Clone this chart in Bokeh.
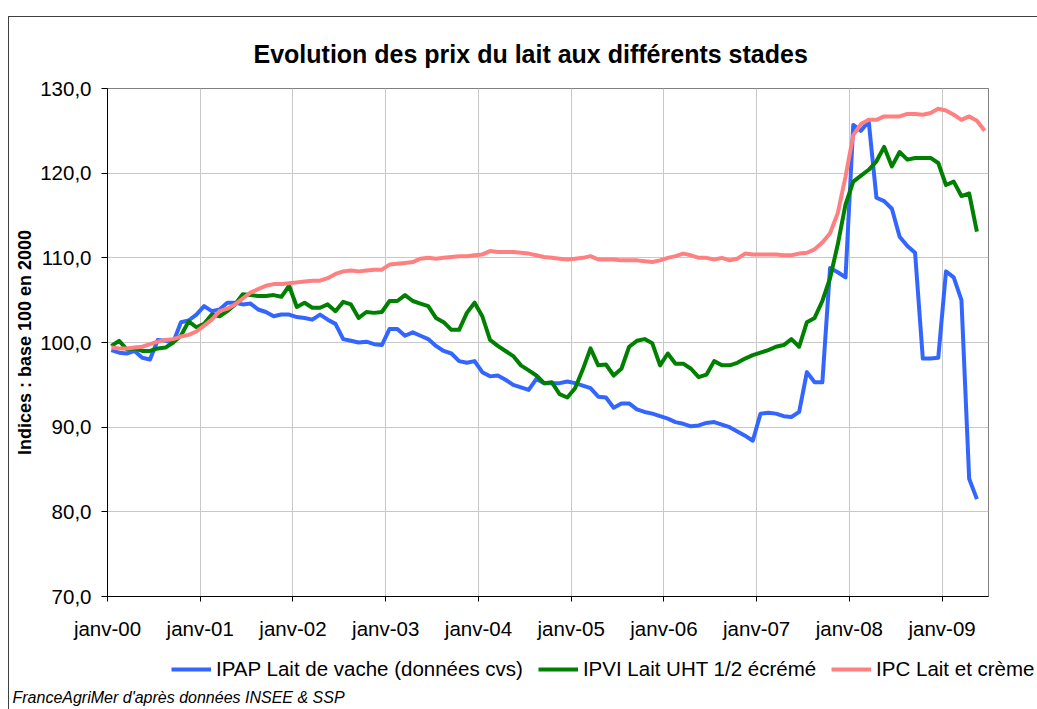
from bokeh.plotting import figure
from bokeh.layouts import column
from bokeh.models import FixedTicker, Range1d, Legend, LegendItem, Label
from bokeh.embed import file_html
from bokeh.resources import INLINE

TITLE = "Evolution des prix du lait aux différents stades"
Y_LABEL = "Indices : base 100 en 2000"
FOOTER = "FranceAgriMer d'après données INSEE & SSP"

series_names = ["IPAP Lait de vache (données cvs)", "IPVI Lait UHT 1/2 écrémé", "IPC Lait et crème"]
series_colors = ["#3366FF", "#008000", "#FF8080"]

# monthly values, janv-00 .. (index 0 = janvier 2000)
ipap = [
    99.1, 98.8, 98.7, 99.0, 98.2, 98.0, 100.3, 100.2, 100.0, 102.4, 102.6, 103.3,
    104.3, 103.7, 103.9, 104.7, 104.7, 104.5, 104.6, 103.9, 103.6, 103.1, 103.3, 103.3,
    103.0, 102.9, 102.7, 103.3, 102.7, 102.2, 100.4, 100.2, 100.0, 100.1, 99.8, 99.7,
    101.6, 101.6, 100.8, 101.2, 100.8, 100.4, 99.6, 99.0, 98.7, 97.8, 97.6, 97.8,
    96.5, 96.0, 96.1, 95.6, 95.0, 94.7, 94.4, 95.7, 95.2, 95.2, 95.2, 95.4,
    95.2, 94.9, 94.6, 93.6, 93.5, 92.3, 92.8, 92.8, 92.1, 91.8, 91.6, 91.3,
    91.0, 90.6, 90.4, 90.1, 90.2, 90.5, 90.6, 90.3, 90.0, 89.5, 89.0, 88.4,
    91.6, 91.7, 91.6, 91.3, 91.2, 91.8, 96.5, 95.3, 95.3, 108.8, 108.3, 107.7,
    125.7, 125.0, 126.1, 117.1, 116.7, 115.8, 112.5, 111.4, 110.6, 98.1, 98.1, 98.2,
    108.4, 107.7, 105.0, 83.9, 81.5,
]
ipvi = [
    99.6, 100.2, 99.2, 99.3, 99.0, 99.0, 99.3, 99.4, 100.0, 100.8, 102.5, 101.8,
    102.2, 103.3, 103.1, 103.7, 104.5, 105.7, 105.6, 105.5, 105.5, 105.6, 105.4, 106.7,
    104.2, 104.7, 104.1, 104.1, 104.5, 103.7, 104.8, 104.5, 102.9, 103.6, 103.5, 103.6,
    104.9, 104.9, 105.6, 104.9, 104.6, 104.3, 102.9, 102.4, 101.5, 101.5, 103.5, 104.7,
    103.1, 100.3, 99.6, 99.0, 98.4, 97.3, 96.7, 96.1, 95.2, 95.3, 93.9, 93.5,
    94.6, 96.8, 99.3, 97.3, 97.4, 96.1, 96.9, 99.5, 100.2, 100.4, 99.9, 97.3,
    98.7, 97.5, 97.5, 96.9, 95.9, 96.2, 97.8, 97.3, 97.3, 97.6, 98.1, 98.5,
    98.8, 99.1, 99.5, 99.7, 100.4, 99.5, 102.4, 102.9, 104.9, 107.6, 111.6, 116.3,
    119.0, 119.7, 120.4, 121.4, 123.1, 120.8, 122.5, 121.6, 121.8, 121.8, 121.8, 121.2,
    118.6, 119.0, 117.3, 117.6, 113.1,
]
ipc = [
    99.4, 99.3, 99.3, 99.4, 99.5, 99.8, 100.1, 100.3, 100.4, 100.7, 100.9, 101.3,
    102.0, 102.7, 103.7, 104.0, 104.5, 105.2, 105.9, 106.3, 106.7, 106.9, 106.9, 107.0,
    107.1, 107.2, 107.3, 107.3, 107.6, 108.1, 108.4, 108.5, 108.4, 108.5, 108.6, 108.6,
    109.2, 109.3, 109.4, 109.5, 109.9, 110.0, 109.9, 110.0, 110.1, 110.2, 110.2, 110.3,
    110.4, 110.8, 110.7, 110.7, 110.7, 110.6, 110.5, 110.3, 110.1, 110.0, 109.9, 109.8,
    109.9, 110.0, 110.2, 109.8, 109.8, 109.8, 109.7, 109.7, 109.7, 109.6, 109.5, 109.7,
    110.0, 110.2, 110.5, 110.3, 110.0, 110.0, 109.8, 110.0, 109.7, 109.9, 110.5, 110.4,
    110.4, 110.4, 110.4, 110.3, 110.3, 110.5, 110.6, 111.0, 111.8, 112.9, 115.3, 119.6,
    124.5, 125.8, 126.3, 126.3, 126.7, 126.7, 126.7, 127.0, 127.0, 126.9, 127.1, 127.6,
    127.4, 126.9, 126.3, 126.7, 126.2, 125.0,
]

x_tick_labels = ["janv-00", "janv-01", "janv-02", "janv-03", "janv-04",
                 "janv-05", "janv-06", "janv-07", "janv-08", "janv-09"]
y_ticks = [70, 80, 90, 100, 110, 120, 130]
y_tick_labels = ["70,0", "80,0", "90,0", "100,0", "110,0", "120,0", "130,0"]
n_months = 114

FONT = "Liberation Sans"
TXT = "20.5px"

p = figure(width=1037, height=645, output_backend="svg", toolbar_location=None, tools="",
           x_range=Range1d(0, n_months), y_range=Range1d(70, 130),
           min_border_left=107, min_border_right=49, min_border_top=88, min_border_bottom=49,
           title=TITLE)
p.frame_align = False
p.background_fill_color = "white"
p.border_fill_color = None
p.outline_line_color = "#808080"

p.title.text_font = FONT
p.title.text_font_size = "25px"
p.title.text_font_style = "bold"
p.title.text_color = "black"
p.title.align = "left"
p.title.offset = 146
p.title.standoff = 42

renderers = []
for vals, col in zip([ipap, ipvi, ipc], series_colors):
    xs = [i + 0.5 for i in range(len(vals))]
    r = p.line(xs, vals, line_color=col, line_width=4, line_join="round")
    renderers.append(r)

xt = [12 * k for k in range(len(x_tick_labels))]
p.xaxis.ticker = FixedTicker(ticks=xt)
p.xaxis.major_label_overrides = {t: lab for t, lab in zip(xt, x_tick_labels)}
p.yaxis.ticker = FixedTicker(ticks=y_ticks)
p.yaxis.major_label_overrides = {t: lab for t, lab in zip(y_ticks, y_tick_labels)}

p.axis.axis_line_color = "black"
p.axis.major_tick_line_color = "black"
p.axis.minor_tick_line_color = None
p.axis.major_tick_in = 0
p.xaxis.major_tick_out = 5
p.yaxis.major_tick_out = 6
p.axis.major_label_text_font = FONT
p.axis.major_label_text_font_size = TXT
p.axis.major_label_text_color = "black"
p.xaxis.major_label_standoff = 15
p.yaxis.major_label_standoff = 10

p.yaxis.axis_label = Y_LABEL
p.yaxis.axis_label_text_font = FONT
p.yaxis.axis_label_text_font_size = "18px"
p.yaxis.axis_label_text_font_style = "bold"
p.yaxis.axis_label_text_color = "black"
p.yaxis.axis_label_standoff = 2

p.grid.grid_line_color = "#c8c8c8"
p.grid.grid_line_width = 1

# strip below the chart: legend + source note
p2 = figure(width=1037, height=64, output_backend="svg", toolbar_location=None, tools="",
            x_range=Range1d(0, 1), y_range=Range1d(0, 1),
            x_axis_location=None, y_axis_location=None,
            min_border_left=0, min_border_right=0, min_border_top=0, min_border_bottom=0)
p2.frame_align = False
p2.background_fill_color = None
p2.border_fill_color = None
p2.outline_line_color = None
p2.grid.visible = False

# legend keys (kept outside the visible range of this strip)
keys = [p2.line([-2, -1], [-2, -2], line_color=col, line_width=4) for col in series_colors]
legend = Legend(
    items=[LegendItem(label=nm, renderers=[r]) for nm, r in zip(series_names, keys)],
    orientation="horizontal", location=(171, 28),
    border_line_color=None, background_fill_alpha=0,
    label_text_font=FONT, label_text_font_size=TXT, label_text_color="black",
    glyph_width=40, glyph_height=20, label_standoff=5, spacing=15, padding=6, margin=0,
)
p2.add_layout(legend)

footer = Label(x=12, y=12, x_units="screen", y_units="screen", text=FOOTER,
               text_font=FONT, text_font_style="italic", text_font_size="16px",
               text_baseline="middle", text_color="black")
p2.add_layout(footer)

layout = column(p, p2, spacing=0, styles={
    "background": "linear-gradient(#404040,#404040) 8px 16px / 1px 100% no-repeat, "
                  "linear-gradient(#404040,#404040) 8px 16px / 100% 1px no-repeat, white"})

open("out.html", "w").write(file_html(layout, INLINE))
